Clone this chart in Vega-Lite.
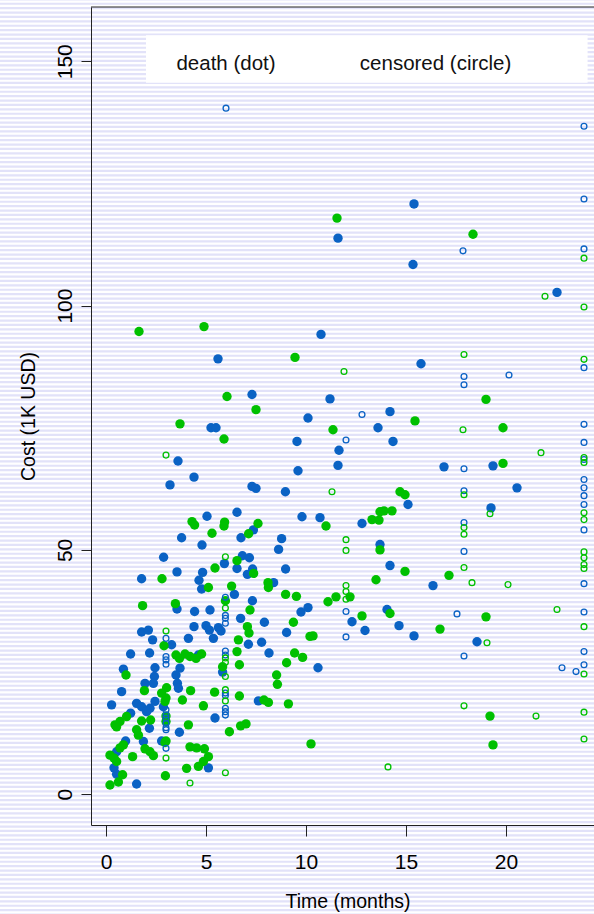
{
  "$schema": "https://vega.github.io/schema/vega-lite/v6.json",
  "width": 503,
  "height": 818,
  "autosize": {"type": "none"},
  "padding": {"left": 91, "top": 7, "right": 0, "bottom": 89},
  "background": "white",
  "config": {
    "view": {"stroke": null},
    "font": "Liberation Sans",
    "axis": {
      "grid": false,
      "domainColor": "#222222",
      "tickColor": "#222222",
      "labelColor": "#000000",
      "titleColor": "#000000",
      "labelFont": "Liberation Sans",
      "titleFont": "Liberation Sans",
      "titleFontWeight": "normal"
    },
    "axisX": {
      "tickSize": 11,
      "labelFontSize": 21,
      "labelPadding": 15,
      "labelBaseline": "top",
      "titleFontSize": 19.5,
      "titleBaseline": "alphabetic",
      "titleX": 256.5,
      "titleY": 82.7
    },
    "axisY": {
      "tickSize": 10,
      "labelFontSize": 21,
      "labelAngle": 270,
      "labelAlign": "center",
      "labelBaseline": "alphabetic",
      "labelPadding": 9.3,
      "titleFontSize": 19.5,
      "titleAngle": 270,
      "titleAlign": "center",
      "titleBaseline": "alphabetic",
      "titleX": -57,
      "titleY": 409
    }
  },
  "datasets": {
    "one": [{}],
    "pts": [
      {"t":3.6,"c":68.2,"g":"A","s":"d"},{"t":4.4,"c":64.9,"g":"A","s":"d"},{"t":3.2,"c":63.3,"g":"A","s":"d"},{"t":9.6,"c":66.2,"g":"A","s":"d"},
      {"t":7.3,"c":63.0,"g":"A","s":"d"},{"t":7.5,"c":62.6,"g":"A","s":"d"},{"t":8.97,"c":61.9,"g":"A","s":"d"},{"t":6.55,"c":57.7,"g":"A","s":"d"},
      {"t":5.05,"c":56.9,"g":"A","s":"d"},{"t":9.8,"c":56.8,"g":"A","s":"d"},{"t":7.37,"c":54.1,"g":"A","s":"d"},{"t":3.78,"c":52.5,"g":"A","s":"d"},
      {"t":6.75,"c":52.5,"g":"A","s":"d"},{"t":8.78,"c":52.3,"g":"A","s":"d"},{"t":4.8,"c":51.0,"g":"A","s":"d"},{"t":8.63,"c":50.1,"g":"A","s":"d"},
      {"t":2.88,"c":48.5,"g":"A","s":"d"},{"t":6.82,"c":48.8,"g":"A","s":"d"},{"t":7.17,"c":48.4,"g":"A","s":"d"},{"t":5.92,"c":47.2,"g":"A","s":"d"},
      {"t":6.55,"c":46.2,"g":"A","s":"d"},{"t":7.33,"c":46.1,"g":"A","s":"d"},{"t":8.98,"c":46.1,"g":"A","s":"d"},{"t":1.78,"c":44.1,"g":"A","s":"d"},
      {"t":3.55,"c":45.5,"g":"A","s":"d"},{"t":4.83,"c":45.4,"g":"A","s":"d"},{"t":4.65,"c":43.8,"g":"A","s":"d"},{"t":4.78,"c":42.0,"g":"A","s":"d"},
      {"t":7.07,"c":45.0,"g":"A","s":"d"},{"t":8.38,"c":43.3,"g":"A","s":"d"},{"t":6.42,"c":40.9,"g":"A","s":"d"},{"t":7.32,"c":39.6,"g":"A","s":"d"},
      {"t":3.55,"c":37.9,"g":"A","s":"d"},{"t":4.43,"c":37.4,"g":"A","s":"d"},{"t":5.2,"c":37.7,"g":"A","s":"d"},{"t":6.73,"c":36.0,"g":"A","s":"d"},
      {"t":9.75,"c":37.3,"g":"A","s":"d"},{"t":10.1,"c":38.2,"g":"A","s":"d"},
      {"t":7.92,"c":35.2,"g":"A","s":"d"},{"t":1.78,"c":33.2,"g":"A","s":"d"},{"t":2.12,"c":33.6,"g":"A","s":"d"},{"t":2.33,"c":31.6,"g":"A","s":"d"},
      {"t":4.4,"c":34.3,"g":"A","s":"d"},{"t":5.0,"c":34.5,"g":"A","s":"d"},{"t":5.17,"c":33.6,"g":"A","s":"d"},{"t":5.37,"c":31.9,"g":"A","s":"d"},
      {"t":5.62,"c":34.1,"g":"A","s":"d"},{"t":5.75,"c":33.4,"g":"A","s":"d"},{"t":4.12,"c":31.9,"g":"A","s":"d"},{"t":9.03,"c":33.1,"g":"A","s":"d"},
      {"t":7.12,"c":30.7,"g":"A","s":"d"},{"t":7.78,"c":31.1,"g":"A","s":"d"},{"t":3.28,"c":30.6,"g":"A","s":"d"},{"t":1.23,"c":28.7,"g":"A","s":"d"},
      {"t":2.18,"c":28.9,"g":"A","s":"d"},{"t":4.62,"c":28.5,"g":"A","s":"d"},{"t":8.15,"c":28.9,"g":"A","s":"d"},{"t":0.87,"c":25.6,"g":"A","s":"d"},
      {"t":2.45,"c":25.9,"g":"A","s":"d"},{"t":3.7,"c":25.8,"g":"A","s":"d"},{"t":3.5,"c":24.4,"g":"A","s":"d"},{"t":3.57,"c":22.7,"g":"A","s":"d"},
      {"t":3.62,"c":21.7,"g":"A","s":"d"},{"t":2.42,"c":24.1,"g":"A","s":"d"},{"t":1.95,"c":22.7,"g":"A","s":"d"},{"t":2.37,"c":22.7,"g":"A","s":"d"},
      {"t":0.78,"c":21.0,"g":"A","s":"d"},{"t":5.83,"c":25.0,"g":"A","s":"d"},{"t":7.62,"c":19.1,"g":"A","s":"d"},{"t":0.28,"c":18.3,"g":"A","s":"d"},
      {"t":1.53,"c":18.6,"g":"A","s":"d"},{"t":1.78,"c":17.9,"g":"A","s":"d"},{"t":2.2,"c":17.6,"g":"A","s":"d"},{"t":2.03,"c":16.9,"g":"A","s":"d"},
      {"t":2.45,"c":19.0,"g":"A","s":"d"},{"t":2.87,"c":17.9,"g":"A","s":"d"},{"t":5.45,"c":15.6,"g":"A","s":"d"},{"t":1.23,"c":16.6,"g":"A","s":"d"},
      {"t":2.17,"c":13.5,"g":"A","s":"d"},{"t":3.67,"c":12.7,"g":"A","s":"d"},{"t":1.87,"c":10.8,"g":"A","s":"d"},{"t":0.98,"c":10.9,"g":"A","s":"d"},
      {"t":2.78,"c":10.9,"g":"A","s":"d"},{"t":0.53,"c":8.7,"g":"A","s":"d"},{"t":5.12,"c":5.4,"g":"A","s":"d"},{"t":0.4,"c":5.4,"g":"A","s":"d"},
      {"t":0.53,"c":4.1,"g":"A","s":"d"},{"t":1.53,"c":2.1,"g":"A","s":"d"},
      {"t":5.6,"c":89.1,"g":"A","s":"d"},{"t":7.3,"c":81.8,"g":"A","s":"d"},{"t":5.25,"c":75.0,"g":"A","s":"d"},{"t":5.5,"c":75.0,"g":"A","s":"d"},
      {"t":9.55,"c":72.2,"g":"A","s":"d"},{"t":10.75,"c":94.1,"g":"A","s":"d"},{"t":10.1,"c":77.0,"g":"A","s":"d"},{"t":11.2,"c":80.9,"g":"A","s":"d"},
      {"t":11.6,"c":113.8,"g":"A","s":"d"},{"t":15.4,"c":120.8,"g":"A","s":"d"},{"t":15.35,"c":108.4,"g":"A","s":"d"},{"t":15.75,"c":88.1,"g":"A","s":"d"},
      {"t":13.6,"c":75.0,"g":"A","s":"d"},{"t":14.2,"c":78.3,"g":"A","s":"d"},{"t":14.35,"c":72.2,"g":"A","s":"d"},{"t":11.65,"c":70.4,"g":"A","s":"d"},
      {"t":11.6,"c":67.3,"g":"A","s":"d"},{"t":10.7,"c":56.6,"g":"A","s":"d"},{"t":12.8,"c":55.4,"g":"A","s":"d"},{"t":15.1,"c":59.3,"g":"A","s":"d"},
      {"t":13.7,"c":51.1,"g":"A","s":"d"},{"t":14.2,"c":46.8,"g":"A","s":"d"},{"t":14.05,"c":37.8,"g":"A","s":"d"},{"t":14.65,"c":34.5,"g":"A","s":"d"},
      {"t":15.4,"c":32.4,"g":"A","s":"d"},{"t":12.3,"c":35.3,"g":"A","s":"d"},{"t":12.95,"c":33.5,"g":"A","s":"d"},{"t":10.6,"c":25.9,"g":"A","s":"d"},
      {"t":16.9,"c":67.0,"g":"A","s":"d"},{"t":16.35,"c":42.7,"g":"A","s":"d"},{"t":18.55,"c":31.2,"g":"A","s":"d"},{"t":19.25,"c":58.6,"g":"A","s":"d"},
      {"t":19.35,"c":67.2,"g":"A","s":"d"},{"t":20.55,"c":62.7,"g":"A","s":"d"},{"t":22.55,"c":102.7,"g":"A","s":"d"},

      {"t":4.3,"c":55.8,"g":"B","s":"d"},{"t":4.43,"c":55.1,"g":"B","s":"d"},{"t":5.93,"c":55.7,"g":"B","s":"d"},{"t":5.9,"c":54.9,"g":"B","s":"d"},
      {"t":7.6,"c":55.4,"g":"B","s":"d"},{"t":7.13,"c":53.3,"g":"B","s":"d"},{"t":5.3,"c":53.4,"g":"B","s":"d"},{"t":6.55,"c":47.8,"g":"B","s":"d"},
      {"t":5.45,"c":46.3,"g":"B","s":"d"},{"t":2.8,"c":44.1,"g":"B","s":"d"},{"t":7.38,"c":45.2,"g":"B","s":"d"},{"t":5.12,"c":42.3,"g":"B","s":"d"},
      {"t":6.28,"c":42.6,"g":"B","s":"d"},{"t":8.1,"c":43.3,"g":"B","s":"d"},{"t":8.12,"c":42.3,"g":"B","s":"d"},{"t":5.97,"c":39.6,"g":"B","s":"d"},
      {"t":8.98,"c":40.9,"g":"B","s":"d"},{"t":9.52,"c":40.5,"g":"B","s":"d"},{"t":1.83,"c":38.6,"g":"B","s":"d"},{"t":3.47,"c":39.0,"g":"B","s":"d"},
      {"t":7.2,"c":37.7,"g":"B","s":"d"},
      {"t":9.37,"c":35.2,"g":"B","s":"d"},{"t":7.07,"c":34.3,"g":"B","s":"d"},{"t":7.15,"c":33.0,"g":"B","s":"d"},{"t":10.2,"c":32.3,"g":"B","s":"d"},
      {"t":6.62,"c":31.6,"g":"B","s":"d"},{"t":2.9,"c":30.4,"g":"B","s":"d"},{"t":3.5,"c":28.5,"g":"B","s":"d"},{"t":3.67,"c":27.8,"g":"B","s":"d"},
      {"t":3.95,"c":28.7,"g":"B","s":"d"},{"t":4.2,"c":28.2,"g":"B","s":"d"},{"t":4.5,"c":27.8,"g":"B","s":"d"},{"t":4.78,"c":28.7,"g":"B","s":"d"},
      {"t":5.83,"c":26.1,"g":"B","s":"d"},{"t":6.55,"c":29.2,"g":"B","s":"d"},{"t":6.67,"c":26.5,"g":"B","s":"d"},{"t":9.43,"c":28.9,"g":"B","s":"d"},
      {"t":9.83,"c":28.0,"g":"B","s":"d"},{"t":9.03,"c":26.9,"g":"B","s":"d"},{"t":1.0,"c":24.4,"g":"B","s":"d"},{"t":8.53,"c":24.4,"g":"B","s":"d"},
      {"t":8.57,"c":22.5,"g":"B","s":"d"},{"t":3.03,"c":21.8,"g":"B","s":"d"},{"t":2.78,"c":20.7,"g":"B","s":"d"},{"t":3.0,"c":19.7,"g":"B","s":"d"},
      {"t":2.95,"c":19.0,"g":"B","s":"d"},{"t":1.92,"c":21.2,"g":"B","s":"d"},{"t":4.23,"c":21.2,"g":"B","s":"d"},{"t":5.43,"c":20.9,"g":"B","s":"d"},
      {"t":6.67,"c":20.1,"g":"B","s":"d"},{"t":3.82,"c":19.3,"g":"B","s":"d"},{"t":7.9,"c":19.3,"g":"B","s":"d"},{"t":8.12,"c":18.8,"g":"B","s":"d"},
      {"t":9.12,"c":18.5,"g":"B","s":"d"},{"t":4.87,"c":18.1,"g":"B","s":"d"},{"t":3.0,"c":16.0,"g":"B","s":"d"},{"t":3.0,"c":14.9,"g":"B","s":"d"},
      {"t":4.12,"c":14.2,"g":"B","s":"d"},{"t":1.03,"c":15.9,"g":"B","s":"d"},{"t":0.7,"c":14.9,"g":"B","s":"d"},{"t":0.45,"c":14.2,"g":"B","s":"d"},
      {"t":0.53,"c":13.8,"g":"B","s":"d"},{"t":1.78,"c":15.0,"g":"B","s":"d"},{"t":2.23,"c":15.2,"g":"B","s":"d"},{"t":1.53,"c":13.2,"g":"B","s":"d"},
      {"t":1.62,"c":12.1,"g":"B","s":"d"},{"t":6.17,"c":12.8,"g":"B","s":"d"},{"t":6.73,"c":14.0,"g":"B","s":"d"},{"t":7.0,"c":14.4,"g":"B","s":"d"},
      {"t":0.87,"c":10.1,"g":"B","s":"d"},{"t":0.7,"c":9.5,"g":"B","s":"d"},{"t":3.0,"c":10.9,"g":"B","s":"d"},{"t":2.95,"c":10.6,"g":"B","s":"d"},
      {"t":1.95,"c":9.3,"g":"B","s":"d"},{"t":2.2,"c":8.7,"g":"B","s":"d"},{"t":2.37,"c":7.9,"g":"B","s":"d"},{"t":1.33,"c":7.7,"g":"B","s":"d"},
      {"t":0.2,"c":8.0,"g":"B","s":"d"},{"t":0.4,"c":7.4,"g":"B","s":"d"},{"t":0.53,"c":6.7,"g":"B","s":"d"},{"t":4.2,"c":9.7,"g":"B","s":"d"},
      {"t":4.53,"c":9.5,"g":"B","s":"d"},{"t":4.92,"c":9.3,"g":"B","s":"d"},{"t":5.12,"c":7.7,"g":"B","s":"d"},{"t":4.87,"c":6.7,"g":"B","s":"d"},
      {"t":4.62,"c":5.7,"g":"B","s":"d"},{"t":4.03,"c":5.3,"g":"B","s":"d"},{"t":0.83,"c":4.0,"g":"B","s":"d"},{"t":2.97,"c":3.8,"g":"B","s":"d"},
      {"t":0.2,"c":1.9,"g":"B","s":"d"},{"t":0.62,"c":2.5,"g":"B","s":"d"},
      {"t":1.65,"c":94.7,"g":"B","s":"d"},{"t":4.9,"c":95.7,"g":"B","s":"d"},{"t":6.05,"c":81.4,"g":"B","s":"d"},{"t":7.5,"c":78.7,"g":"B","s":"d"},
      {"t":3.7,"c":75.8,"g":"B","s":"d"},{"t":5.9,"c":72.7,"g":"B","s":"d"},{"t":9.45,"c":89.4,"g":"B","s":"d"},{"t":11.55,"c":117.9,"g":"B","s":"d"},
      {"t":11.35,"c":74.6,"g":"B","s":"d"},{"t":11.0,"c":54.9,"g":"B","s":"d"},{"t":13.3,"c":56.2,"g":"B","s":"d"},{"t":13.7,"c":57.8,"g":"B","s":"d"},
      {"t":13.9,"c":58.0,"g":"B","s":"d"},{"t":14.3,"c":58.0,"g":"B","s":"d"},{"t":13.65,"c":56.1,"g":"B","s":"d"},{"t":14.7,"c":61.9,"g":"B","s":"d"},
      {"t":14.95,"c":61.3,"g":"B","s":"d"},{"t":15.45,"c":76.4,"g":"B","s":"d"},{"t":13.7,"c":50.0,"g":"B","s":"d"},{"t":13.5,"c":43.9,"g":"B","s":"d"},
      {"t":14.95,"c":45.6,"g":"B","s":"d"},{"t":14.2,"c":37.0,"g":"B","s":"d"},{"t":12.8,"c":36.5,"g":"B","s":"d"},{"t":12.2,"c":40.4,"g":"B","s":"d"},
      {"t":11.5,"c":40.4,"g":"B","s":"d"},{"t":11.1,"c":39.4,"g":"B","s":"d"},{"t":10.35,"c":32.4,"g":"B","s":"d"},{"t":10.25,"c":10.3,"g":"B","s":"d"},
      {"t":18.35,"c":114.6,"g":"B","s":"d"},{"t":16.7,"c":33.8,"g":"B","s":"d"},{"t":17.15,"c":44.8,"g":"B","s":"d"},{"t":19.0,"c":36.3,"g":"B","s":"d"},
      {"t":19.0,"c":80.8,"g":"B","s":"d"},{"t":19.85,"c":67.7,"g":"B","s":"d"},{"t":19.85,"c":75.0,"g":"B","s":"d"},{"t":19.2,"c":16.0,"g":"B","s":"d"},
      {"t":19.35,"c":10.1,"g":"B","s":"d"},

      {"t":6.0,"c":140.4,"g":"A","s":"c"},{"t":5.97,"c":40.3,"g":"A","s":"c"},{"t":5.97,"c":36.6,"g":"A","s":"c"},{"t":5.97,"c":36.0,"g":"A","s":"c"},
      {"t":5.97,"c":35.0,"g":"A","s":"c"},{"t":3.0,"c":31.9,"g":"A","s":"c"},{"t":3.0,"c":28.2,"g":"A","s":"c"},{"t":3.0,"c":27.5,"g":"A","s":"c"},
      {"t":3.0,"c":26.6,"g":"A","s":"c"},{"t":5.97,"c":29.3,"g":"A","s":"c"},{"t":5.97,"c":28.5,"g":"A","s":"c"},{"t":5.97,"c":20.7,"g":"A","s":"c"},
      {"t":5.97,"c":20.2,"g":"A","s":"c"},{"t":3.0,"c":17.3,"g":"A","s":"c"},{"t":3.0,"c":16.2,"g":"A","s":"c"},{"t":3.0,"c":15.6,"g":"A","s":"c"},
      {"t":3.0,"c":14.5,"g":"A","s":"c"},{"t":3.0,"c":13.6,"g":"A","s":"c"},{"t":3.0,"c":13.2,"g":"A","s":"c"},{"t":5.97,"c":17.6,"g":"A","s":"c"},
      {"t":5.97,"c":16.9,"g":"A","s":"c"},{"t":5.97,"c":16.2,"g":"A","s":"c"},{"t":3.0,"c":9.4,"g":"A","s":"c"},
      {"t":12.0,"c":72.5,"g":"A","s":"c"},{"t":12.0,"c":37.4,"g":"A","s":"c"},{"t":12.0,"c":32.2,"g":"A","s":"c"},{"t":12.8,"c":77.7,"g":"A","s":"c"},
      {"t":17.85,"c":111.2,"g":"A","s":"c"},{"t":17.9,"c":85.5,"g":"A","s":"c"},{"t":17.9,"c":83.8,"g":"A","s":"c"},{"t":17.9,"c":66.6,"g":"A","s":"c"},
      {"t":17.9,"c":62.1,"g":"A","s":"c"},{"t":17.9,"c":55.6,"g":"A","s":"c"},{"t":17.9,"c":49.7,"g":"A","s":"c"},{"t":17.9,"c":28.3,"g":"A","s":"c"},
      {"t":17.55,"c":36.9,"g":"A","s":"c"},{"t":20.15,"c":85.8,"g":"A","s":"c"},{"t":22.8,"c":25.9,"g":"A","s":"c"},{"t":23.5,"c":25.1,"g":"A","s":"c"},
      {"t":23.9,"c":136.7,"g":"A","s":"c"},{"t":23.9,"c":121.8,"g":"A","s":"c"},{"t":23.9,"c":111.6,"g":"A","s":"c"},{"t":23.9,"c":87.3,"g":"A","s":"c"},
      {"t":23.9,"c":75.7,"g":"A","s":"c"},{"t":23.9,"c":72.0,"g":"A","s":"c"},{"t":23.9,"c":68.5,"g":"A","s":"c"},{"t":23.9,"c":64.4,"g":"A","s":"c"},
      {"t":23.9,"c":62.7,"g":"A","s":"c"},{"t":23.9,"c":61.1,"g":"A","s":"c"},{"t":23.9,"c":59.3,"g":"A","s":"c"},{"t":23.9,"c":54.1,"g":"A","s":"c"},
      {"t":23.9,"c":43.1,"g":"A","s":"c"},{"t":23.9,"c":37.3,"g":"A","s":"c"},{"t":23.9,"c":29.2,"g":"A","s":"c"},{"t":23.9,"c":26.5,"g":"A","s":"c"},

      {"t":3.0,"c":69.4,"g":"B","s":"c"},{"t":5.97,"c":48.6,"g":"B","s":"c"},{"t":5.97,"c":38.1,"g":"B","s":"c"},{"t":3.0,"c":33.4,"g":"B","s":"c"},
      {"t":5.97,"c":27.9,"g":"B","s":"c"},{"t":5.97,"c":27.0,"g":"B","s":"c"},{"t":5.97,"c":24.1,"g":"B","s":"c"},{"t":5.97,"c":21.4,"g":"B","s":"c"},
      {"t":5.97,"c":19.1,"g":"B","s":"c"},{"t":3.0,"c":7.4,"g":"B","s":"c"},{"t":5.97,"c":4.4,"g":"B","s":"c"},{"t":4.2,"c":2.3,"g":"B","s":"c"},
      {"t":11.9,"c":86.5,"g":"B","s":"c"},{"t":11.3,"c":61.9,"g":"B","s":"c"},{"t":12.0,"c":52.1,"g":"B","s":"c"},{"t":12.0,"c":49.9,"g":"B","s":"c"},
      {"t":12.0,"c":42.7,"g":"B","s":"c"},{"t":12.0,"c":41.5,"g":"B","s":"c"},{"t":12.0,"c":39.9,"g":"B","s":"c"},{"t":14.1,"c":5.6,"g":"B","s":"c"},
      {"t":17.9,"c":90.0,"g":"B","s":"c"},{"t":17.85,"c":74.6,"g":"B","s":"c"},{"t":17.9,"c":61.3,"g":"B","s":"c"},{"t":17.9,"c":54.6,"g":"B","s":"c"},
      {"t":17.9,"c":53.2,"g":"B","s":"c"},{"t":17.9,"c":46.4,"g":"B","s":"c"},{"t":17.9,"c":18.1,"g":"B","s":"c"},{"t":18.3,"c":43.3,"g":"B","s":"c"},
      {"t":19.05,"c":31.0,"g":"B","s":"c"},{"t":19.2,"c":57.4,"g":"B","s":"c"},{"t":20.1,"c":42.9,"g":"B","s":"c"},{"t":21.95,"c":101.9,"g":"B","s":"c"},
      {"t":21.75,"c":69.9,"g":"B","s":"c"},{"t":22.55,"c":37.8,"g":"B","s":"c"},{"t":21.5,"c":16.0,"g":"B","s":"c"},
      {"t":23.9,"c":109.7,"g":"B","s":"c"},{"t":23.9,"c":99.7,"g":"B","s":"c"},{"t":23.9,"c":89.0,"g":"B","s":"c"},{"t":23.9,"c":68.9,"g":"B","s":"c"},
      {"t":23.9,"c":67.9,"g":"B","s":"c"},{"t":23.9,"c":57.6,"g":"B","s":"c"},{"t":23.9,"c":56.2,"g":"B","s":"c"},{"t":23.9,"c":49.6,"g":"B","s":"c"},
      {"t":23.9,"c":48.4,"g":"B","s":"c"},{"t":23.9,"c":47.0,"g":"B","s":"c"},{"t":23.9,"c":46.2,"g":"B","s":"c"},{"t":23.9,"c":34.3,"g":"B","s":"c"},
      {"t":23.9,"c":24.6,"g":"B","s":"c"},{"t":23.9,"c":16.8,"g":"B","s":"c"},{"t":23.9,"c":11.3,"g":"B","s":"c"}
    ],
    "legendText": [
      {"x": 6.0, "y": 148.3, "label": "death (dot)"},
      {"x": 16.48, "y": 148.3, "label": "censored (circle)"}
    ]
  },
  "layer": [
    {
      "data": {"name": "one"},
      "mark": {"type": "rule", "strokeWidth": 1400, "color": "#e2e2f9", "strokeDash": [2.2, 2.2], "strokeCap": "butt"},
      "encoding": {
        "x": {"datum": 12, "type": "quantitative", "title": "Time (months)", "scale": {"domain": [-0.75, 24.4], "nice": false, "zero": false}, "axis": {"values": [0, 5, 10, 15, 20], "zindex": 2}},
        "y": {"datum": 180, "type": "quantitative", "title": "Cost (1K USD)", "scale": {"domain": [-6.29, 161.1], "nice": false, "zero": false}, "axis": {"values": [0, 50, 100, 150], "zindex": 2}},
        "y2": {"datum": -35}
      }
    },
    {
      "data": {"name": "one"},
      "mark": {"type": "rule", "color": "#222222", "strokeWidth": 1},
      "encoding": {
        "x": {"datum": -0.75, "type": "quantitative", "title": "Time (months)", "axis": {"values": [0, 5, 10, 15, 20], "zindex": 2}},
        "x2": {"datum": 24.4},
        "y": {"datum": 161.1, "type": "quantitative", "title": "Cost (1K USD)", "axis": {"values": [0, 50, 100, 150], "zindex": 2}}
      }
    },
    {
      "data": {"name": "one"},
      "mark": {"type": "rect", "fill": "white"},
      "encoding": {
        "x": {"datum": 2.0, "type": "quantitative", "title": "Time (months)", "axis": {"values": [0, 5, 10, 15, 20], "zindex": 2}},
        "x2": {"datum": 24.08},
        "y": {"datum": 155.3, "type": "quantitative", "title": "Cost (1K USD)", "axis": {"values": [0, 50, 100, 150], "zindex": 2}},
        "y2": {"datum": 145.6}
      }
    },
    {
      "data": {"name": "legendText"},
      "mark": {"type": "text", "fontSize": 20.5, "align": "center", "baseline": "alphabetic", "color": "#111111", "font": "Liberation Sans"},
      "encoding": {
        "x": {"field": "x", "type": "quantitative", "title": "Time (months)", "axis": {"values": [0, 5, 10, 15, 20], "zindex": 2}},
        "y": {"field": "y", "type": "quantitative", "title": "Cost (1K USD)", "axis": {"values": [0, 50, 100, 150], "zindex": 2}},
        "text": {"field": "label"}
      }
    },
    {
      "data": {"name": "pts"},
      "transform": [{"filter": "datum.s === 'd'"}],
      "mark": {"type": "circle", "size": 88, "opacity": 1},
      "encoding": {
        "x": {"field": "t", "type": "quantitative", "title": "Time (months)", "axis": {"values": [0, 5, 10, 15, 20], "zindex": 2}},
        "y": {"field": "c", "type": "quantitative", "title": "Cost (1K USD)", "axis": {"values": [0, 50, 100, 150], "zindex": 2}},
        "color": {"field": "g", "type": "nominal", "scale": {"domain": ["A", "B"], "range": ["#0a62c4", "#00c000"]}, "legend": null}
      }
    },
    {
      "data": {"name": "pts"},
      "transform": [{"filter": "datum.s === 'c'"}],
      "mark": {"type": "point", "shape": "circle", "filled": false, "size": 34, "strokeWidth": 1.3, "opacity": 1},
      "encoding": {
        "x": {"field": "t", "type": "quantitative", "title": "Time (months)", "axis": {"values": [0, 5, 10, 15, 20], "zindex": 2}},
        "y": {"field": "c", "type": "quantitative", "title": "Cost (1K USD)", "axis": {"values": [0, 50, 100, 150], "zindex": 2}},
        "color": {"field": "g", "type": "nominal", "scale": {"domain": ["A", "B"], "range": ["#0a62c4", "#00c000"]}, "legend": null}
      }
    }
  ]
}
